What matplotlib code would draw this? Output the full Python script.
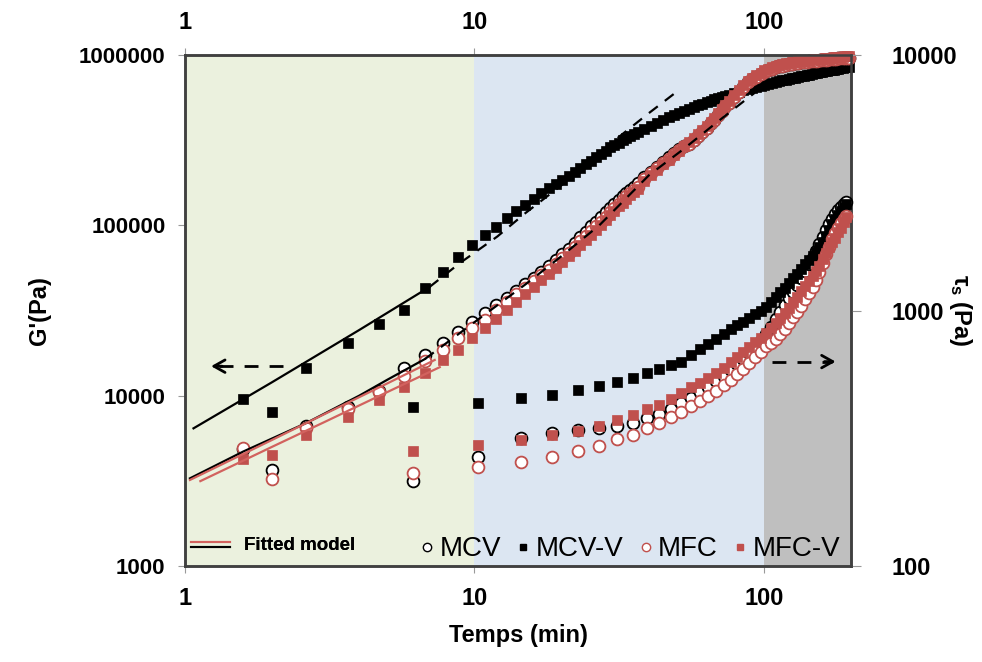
import numpy as np
import matplotlib
matplotlib.use("Agg")
import matplotlib.pyplot as plt
from matplotlib.lines import Line2D
from matplotlib.legend_handler import HandlerBase
from matplotlib.ticker import FixedLocator, FixedFormatter, NullLocator

plt.rcParams['font.family'] = ['Liberation Sans', 'DejaVu Sans']
plt.rcParams['mathtext.fontset'] = 'custom'
plt.rcParams['mathtext.rm'] = 'Liberation Sans:bold'
plt.rcParams['mathtext.it'] = 'Liberation Sans:bold'
plt.rcParams['mathtext.bf'] = 'Liberation Sans:bold'

# ---- G' data (left axis), time in min ----
t_g = [1.59, 2.62, 3.65, 4.68, 5.71, 6.74, 7.77, 8.80, 9.83, 10.86, 11.89, 12.92,
       13.95, 14.98, 16.01, 17.04, 18.07, 19.10, 20.13, 21.16, 22.19, 23.22, 24.25,
       25.28, 26.31, 27.34, 28.37, 29.40, 30.43, 31.46, 32.49, 33.52, 34.55, 35.58,
       36.61,
       38.67, 40.73, 42.79, 44.85, 46.91, 48.97, 51.03, 53.09, 55.15, 57.21, 59.27,
       61.33, 63.39, 65.45, 67.51, 69.57, 71.63, 73.69, 75.75,
       78.84, 81.93, 85.02, 88.11, 91.20, 94.29, 97.38, 100.47, 103.56, 106.65,
       109.74, 112.83, 115.92, 119.01, 122.10, 125.19, 128.28, 131.37, 134.46,
       137.55, 140.64, 143.73, 146.82, 149.91, 153.00, 156.09, 159.18, 162.27,
       165.36, 168.45, 171.54, 174.63, 177.72, 180.81, 183.90, 186.99, 190.08,
       193.17, 196.26]

g_mcv = [4840, 6640, 8530, 10700, 14450, 17300, 20500, 23700, 27200, 30700, 34000, 37200,
         41200, 45000, 49100, 53400, 57700, 62500, 67500, 73000, 79000, 85500, 92000,
         98500, 105000, 112000, 119000, 126000, 134000, 141000, 148000, 155000, 162000, 169000,
         177000,
         192000, 207000, 221000, 236000, 251000, 265000, 279000, 291000, 301000, 318000, 335000,
         355000, 375000, 397000, 418000, 445000, 471000, 499000, 526000,
         570000, 610000, 650000, 691000, 719000, 745000, 771000, 797000, 816000, 832000,
         845000, 857000, 867000, 875000, 882000, 889000, 895000, 900000, 905000,
         909000, 913000, 917000, 920000, 924000, 927000, 930000, 933000, 936000,
         939000, 942000, 945000, 948000, 951000, 954000, 957000, 959000, 961000,
         964000, 966000]

g_mcv_v = [9550, 14600, 20300, 26300, 31800, 42700, 53200, 64900, 76600, 87700, 98200, 110000,
           121000, 131500, 142000, 154000, 165000, 175000, 185000, 195000, 205000, 216000, 228000,
           240000, 252000, 263000, 275000, 287000, 298000, 306000, 315000, 324000, 333000, 342000,
           351000,
           368000, 385000, 400000, 415000, 430000, 444000, 458000, 470000, 482000, 494000, 506000,
           517000, 528000, 538000, 548000, 558000, 567000, 576000, 585000,
           597000, 608000, 619000, 630000, 640000, 650000, 659000, 668000, 677000, 685000,
           693000, 701000, 709000, 716000, 723000, 730000, 737000, 744000, 750000,
           756000, 762000, 768000, 774000, 780000, 786000, 791000, 797000, 802000,
           807000, 812000, 817000, 822000, 827000, 832000, 836000, 841000, 845000,
           850000, 854000]

g_mfc = [4950, 6500, 8300, 10500, 13000, 15900, 18600, 21700, 24800, 28000, 31800, 35500,
         39300, 43000, 47000, 51000, 55000, 59500, 64000, 69000, 74500, 80500, 86500,
         92500, 99000, 105000, 112000, 119000, 126000, 134000, 141000, 148000, 155000, 162000,
         169000,
         187000, 202000, 216000, 231000, 246000, 261000, 276000, 291000, 301000, 318000, 335000,
         355000, 375000, 397000, 418000, 445000, 471000, 499000, 526000,
         570000, 610000, 650000, 691000, 719000, 745000, 771000, 797000, 816000, 832000,
         845000, 857000, 867000, 875000, 882000, 889000, 895000, 900000, 905000,
         909000, 913000, 917000, 920000, 924000, 927000, 930000, 933000, 936000,
         939000, 942000, 945000, 948000, 951000, 954000, 957000, 959000, 961000,
         964000, 966000]

g_mfc_v = [4250, 5880, 7520, 9420, 11300, 13600, 16200, 18500, 21700, 24800, 28200, 31800,
           35500, 39500, 43500, 47700, 52000, 56500, 61000, 66000, 71000, 76500, 82000,
           88000, 94500, 101000, 108000, 115000, 122000, 129000, 136000, 143000, 150000, 157000,
           164000,
           183000, 198000, 212000, 228000, 243000, 259000, 275000, 291000, 307000, 324000, 342000,
           362000, 383000, 405000, 427000, 454000, 481000, 509000, 537000,
           582000, 622000, 663000, 705000, 734000, 760000, 787000, 813000, 833000, 849000,
           862000, 874000, 884000, 892000, 900000, 907000, 913000, 918000, 923000,
           927000, 931000, 935000, 939000, 943000, 946000, 949000, 952000, 955000,
           958000, 961000, 964000, 967000, 970000, 973000, 976000, 979000, 981000,
           984000, 986000]

# ---- tau_s data (right axis) ----
t_s = [2.00, 6.15, 10.30, 14.45, 18.60, 22.75, 26.90, 31.05, 35.20, 39.35, 43.50, 47.65,
       51.80, 55.95, 60.10, 64.25, 68.40, 72.55, 76.70, 80.85, 85.00, 89.15, 93.30, 97.45,
       101.60, 105.75, 109.90, 114.05, 118.20, 122.35, 126.50, 130.65, 134.80, 138.95,
       143.10, 147.25, 151.40, 155.55, 159.70, 163.85, 168.00, 172.15, 176.30, 180.45,
       184.60, 188.75, 192.90]

s_mcv = [238, 215, 266, 318, 332, 342, 348, 352, 362, 378, 395, 412,
         433, 455, 478, 502, 528, 556, 585, 615, 648, 682, 718, 760,
         810, 865, 925, 985, 1050, 1115, 1185, 1260, 1340, 1425,
         1515, 1610, 1710, 1820, 1940, 2060, 2180, 2290, 2390, 2470,
         2540, 2600, 2650]

s_mcv_v = [402, 420, 436, 453, 467, 488, 506, 526, 546, 568, 589, 612,
           631, 670, 705, 740, 775, 810, 845, 875, 905, 935, 965, 1000,
           1035, 1080, 1130, 1180, 1230, 1285, 1335, 1395, 1455, 1515,
           1575, 1640, 1700, 1770, 1850, 1950, 2060, 2180, 2280, 2370,
           2450, 2530, 2620]

s_mfc = [220, 231, 245, 256, 268, 283, 296, 314, 327, 346, 364, 384,
         402, 422, 442, 463, 486, 510, 535, 562, 592, 622, 655, 690,
         725, 745, 775, 810, 850, 895, 940, 990, 1045, 1105,
         1170, 1240, 1320, 1420, 1540, 1660, 1780, 1900, 2010, 2110,
         2200, 2280, 2350]

s_mfc_v = [272, 283, 298, 311, 326, 339, 353, 373, 390, 410, 427, 449,
           475, 500, 522, 545, 570, 598, 628, 658, 690, 720, 750, 782,
           815, 852, 892, 935, 980, 1025, 1075, 1130, 1190, 1250,
           1310, 1370, 1430, 1500, 1590, 1680, 1770, 1850, 1930, 2020,
           2110, 2220, 2330]

# ---- fitted model curves ----
fit_mcv_v_t = [1.07, 2.0, 4.0, 7.0]
fit_mcv_v = [6430, 12000, 24300, 43500]
ext_mcv_v_t = [7.0, 8.9, 12.0, 15.0, 20.0, 25.0, 31.6, 40.0, 50.9]
ext_mcv_v = [43500, 60000, 86000, 118000, 172000, 235000, 331000, 455000, 623000]

fit_mcv_t = [1.04, 1.59, 2.62, 4.0, 5.0, 6.74]
fit_mcv = [3270, 4700, 6900, 10000, 12400, 16400]
ext_mcv_t = [6.74, 10.0, 15.0, 20.0, 27.0, 40.1, 52.3, 68.1, 86.4, 93.0]
ext_mcv = [16400, 27000, 45000, 66000, 100000, 197000, 277000, 397000, 545000, 600000]

fit_mfc_t = [1.04, 2.0, 3.0, 5.0, 7.29]
fit_mfc = [3200, 5500, 7720, 11800, 16200]
fit_mfc_v_t = [1.13, 2.0, 3.0, 5.0, 7.59]
fit_mfc_v = [3150, 5010, 6940, 10500, 14700]

red = '#C0504D'
red_line = '#D2625E'

fig = plt.figure(figsize=(9.82, 6.62), dpi=100)
ax = fig.add_axes([185/982, 1-566/662, (851-185)/982, (566-55)/662])
ax.set_xscale('log')
ax.set_yscale('log')
ax.set_xlim(1, 200)
ax.set_ylim(1e3, 1e6)

ax.axvspan(1, 10, color='#EBF1DE', lw=0, zorder=0)
ax.axvspan(10, 100, color='#DCE6F2', lw=0, zorder=0)
ax.axvspan(100, 200, color='#BFBFBF', lw=0, zorder=0)

ax2 = ax.twinx()
ax2.set_yscale('log')
ax2.set_ylim(100, 1e4)

ms_c = 8.5
ms_s = 6.5
# G' series
ax.plot(t_g, g_mcv, 'o', mfc='white', mec='black', ms=ms_c, mew=1.3, clip_on=False, zorder=3)
ax.plot(t_g, g_mcv_v, 's', mfc='black', mec='black', ms=ms_s, mew=0.5, clip_on=False, zorder=3)
ax.plot(t_g, g_mfc, 'o', mfc='white', mec=red, ms=ms_c, mew=1.3, clip_on=False, zorder=3)
ax.plot(t_g, g_mfc_v, 's', mfc=red, mec=red, ms=ms_s, mew=0.5, clip_on=False, zorder=3)

# tau_s series
ax2.plot(t_s, s_mcv, 'o', mfc='white', mec='black', ms=ms_c, mew=1.3, clip_on=False, zorder=3)
ax2.plot(t_s, s_mcv_v, 's', mfc='black', mec='black', ms=ms_s, mew=0.5, clip_on=False, zorder=3)
ax2.plot(t_s, s_mfc, 'o', mfc='white', mec=red, ms=ms_c, mew=1.3, clip_on=False, zorder=3)
ax2.plot(t_s, s_mfc_v, 's', mfc=red, mec=red, ms=ms_s, mew=0.5, clip_on=False, zorder=3)

# fitted model
ax.plot(fit_mcv_v_t, fit_mcv_v, '-', color='black', lw=1.6, zorder=5)
ax.plot(ext_mcv_v_t, ext_mcv_v, '--', color='black', lw=1.6, dashes=(5, 4), zorder=5)
ax.plot(fit_mcv_t, fit_mcv, '-', color='black', lw=1.6, zorder=5)
ax.plot(ext_mcv_t, ext_mcv, '--', color='black', lw=1.6, dashes=(5, 4), zorder=5)
ax.plot(fit_mfc_t, fit_mfc, '-', color=red_line, lw=1.6, zorder=5)
ax.plot(fit_mfc_v_t, fit_mfc_v, '-', color=red_line, lw=1.6, zorder=5)

# axis arrows
for x0, x1, y in [(0.147, 0.035, 0.391), (0.881, 0.981, 0.400)]:
    ax.plot([x0, x1 - np.sign(x1 - x0) * 0.01], [y, y], transform=ax.transAxes,
            color='black', lw=2, dashes=(5, 4), zorder=6)
    ax.annotate('', xy=(x1, y), xytext=(x1 - np.sign(x1 - x0) * 0.025, y),
                xycoords='axes fraction', textcoords='axes fraction',
                arrowprops=dict(arrowstyle='->,head_length=0.8,head_width=0.45',
                                color='black', lw=2), zorder=6)

# ticks
for a in (ax, ax2):
    a.xaxis.set_minor_locator(NullLocator())
    a.yaxis.set_minor_locator(NullLocator())
ax.xaxis.set_major_locator(FixedLocator([1, 10, 100]))
ax.xaxis.set_major_formatter(FixedFormatter(['1', '10', '100']))
ax.yaxis.set_major_locator(FixedLocator([1e3, 1e4, 1e5, 1e6]))
ax.yaxis.set_major_formatter(FixedFormatter(['1000', '10000', '100000', '1000000']))
ax2.yaxis.set_major_locator(FixedLocator([100, 1000, 10000]))
ax2.yaxis.set_major_formatter(FixedFormatter(['100', '1000', '10000']))

ax.tick_params(axis='x', which='major', top=True, labeltop=True, direction='out',
               length=5, color='#999999', labelsize=17, pad=10)
ax.tick_params(axis='y', which='major', direction='out', length=5, color='#999999',
               labelsize=16, pad=9)
ax2.tick_params(axis='y', which='major', direction='out', length=7, color='#999999',
                labelsize=17, pad=22)
labels = ax.get_yticklabels() + ax2.get_yticklabels()
for t in ax.xaxis.get_major_ticks():
    labels += [t.label1, t.label2]
for lab in labels:
    lab.set_fontweight('bold')

for a in (ax, ax2):
    for sp in a.spines.values():
        sp.set_color('#404040')
        sp.set_linewidth(1.8)

ax.set_xlabel('Temps (min)', fontsize=17, fontweight='bold', labelpad=10)
ax.set_ylabel("G'(Pa)", fontsize=17, fontweight='bold')
ax.yaxis.set_label_coords(-0.218, 0.5)
ax.yaxis.label.set_va('center')
ax2.set_ylabel(r'$\tau_s$ (Pa)', fontsize=17, fontweight='bold', rotation=270)
ax2.yaxis.set_label_coords(1.164, 0.5)
ax2.yaxis.label.set_va('center')


class TwoLines(HandlerBase):
    def create_artists(self, legend, orig_handle, xdescent, ydescent, width, height,
                       fontsize, trans):
        x = [-xdescent, width - xdescent]
        l1 = Line2D(x, [height * 0.62] * 2, color=red_line, lw=1.5, transform=trans)
        l2 = Line2D(x, [height * 0.22] * 2, color='black', lw=1.5, transform=trans)
        return [l1, l2]


fit_handle = Line2D([], [])
leg1 = ax.legend([fit_handle], ['Fitted model'], handler_map={Line2D: TwoLines()},
                 loc='lower left', bbox_to_anchor=(-0.005, 0.005), frameon=False,
                 prop={'weight': 'bold', 'size': 13.5}, handlelength=2.1, handletextpad=0.7,
                 borderaxespad=0.1)
ax.add_artist(leg1)

h = [Line2D([], [], ls='', marker='o', mfc='white', mec='black', ms=6, mew=1),
     Line2D([], [], ls='', marker='s', mfc='black', mec='black', ms=5),
     Line2D([], [], ls='', marker='o', mfc='white', mec=red, ms=6, mew=1),
     Line2D([], [], ls='', marker='s', mfc=red, mec=red, ms=5)]
leg2 = ax2.legend(h, ['MCV', 'MCV-V', 'MFC', 'MFC-V'], loc='lower right',
                  bbox_to_anchor=(1.005, -0.02), ncol=4, frameon=False, fontsize=20,
                  handlelength=0.6, handletextpad=0.15, columnspacing=0.5,
                  borderaxespad=0.1)

fig.savefig('out.png', dpi=100)
